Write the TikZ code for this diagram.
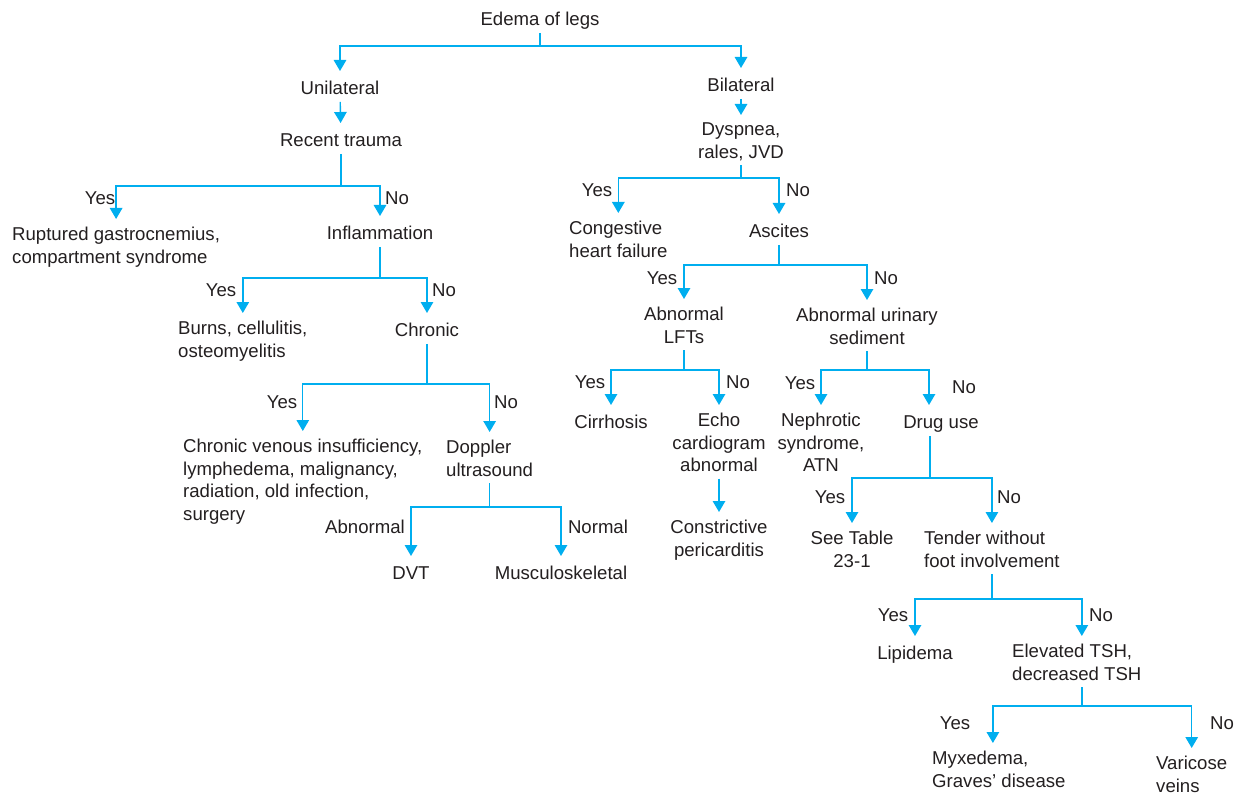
\documentclass[tikz,border=0pt]{standalone}
\usepackage{fontspec}
\setmainfont{Liberation Sans}
\usepackage{xcolor}
\usepackage{tikz}
\usetikzlibrary{arrows.meta,positioning}

\definecolor{flowcyan}{RGB}{0,174,239}
\definecolor{inkgray}{RGB}{35,31,32}

\begin{document}
\begin{tikzpicture}[x=1pt, y=-1pt,
    box/.style={inner sep=0pt, anchor=north, align=center, text=inkgray,
        font=\fontsize{18.6}{22.5}\selectfont,
        execute at begin node=\strut, execute at end node=\strut},
    boxl/.style={box, anchor=north west, align=left},
    lbl/.style={inner sep=0pt, text=inkgray, font=\fontsize{18.6}{22.5}\selectfont},
    link/.style={draw=flowcyan, line width=1.4pt},
    arr/.style={link, -{Triangle[width=12.5pt,length=11pt]}, shorten >=8pt}]
    \useasboundingbox (0,0) rectangle (1236,794);

    % top
    \node[box] (edema) at (540,10) {Edema of legs};
    \node[box] (uni) at (340,79) {Unilateral};
    \node[box] (bil) at (741,76) {Bilateral};
    \draw[link] (edema.south) -- (edema.south |- 0,46) coordinate (f0);
    \draw[arr] (f0) -| (uni.north);
    \draw[arr] (f0) -| (bil.north);

    % unilateral branch
    \node[box] (rec) at (341,131) {Recent trauma};
    \draw[arr] (uni) -- (rec);
    \node[boxl] (rupt) at (12,227) {Ruptured gastrocnemius,\\compartment syndrome};
    \node[box] (infl) at (380,224) {Inflammation};
    \draw[link] (rec.south) -- (rec.south |- 0,186) coordinate (f1);
    \draw[arr] (f1) -| (rupt.north);
    \draw[arr] (f1) -| (infl.north);
    \node[lbl] (y1) at (100,198) {Yes};
    \node[lbl] (n1) at (397,198) {No};

    \node[boxl] (burns) at (178,321) {Burns, cellulitis,\\osteomyelitis};
    \node[box] (chron) at (427,321) {Chronic};
    \draw[link] (infl.south) -- (infl.south |- 0,278) coordinate (f2);
    \draw[arr] (f2) -| (burns.north);
    \draw[arr] (f2) -| (chron.north);
    \node[lbl] (y2) at (221,290) {Yes};
    \node[lbl] (n2) at (444,290) {No};

    \node[boxl] (cvi) at (183,439) {Chronic venous insufficiency,\\lymphedema, malignancy,\\radiation, old infection,\\surgery};
    \node[boxl] (dopp) at (446,440) {Doppler\\ultrasound};
    \draw[link] (chron.south) -- (chron.south |- 0,384) coordinate (f3);
    \draw[arr] (f3) -| (cvi.north);
    \draw[arr] (f3) -| (dopp.north);
    \node[lbl] (y3) at (282,402) {Yes};
    \node[lbl] (n3) at (506,402) {No};

    \node[box] (dvt) at (411,564) {DVT};
    \node[box] (musc) at (561,564) {Musculoskeletal};
    \draw[link] (dopp.south) -- (dopp.south |- 0,507) coordinate (f4);
    \draw[arr] (f4) -| (dvt.north);
    \draw[arr] (f4) -| (musc.north);
    \node[lbl] (ab4) at (365,527) {Abnormal};
    \node[lbl] (nm4) at (598,527) {Normal};

    % bilateral branch
    \node[box] (dys) at (741,123) {Dyspnea,\\rales, JVD};
    \draw[arr] (bil) -- (dys);
    \node[boxl] (chf) at (569,221) {Congestive\\heart failure};
    \node[box] (asc) at (779,222) {Ascites};
    \draw[link] (dys.south) -- (dys.south |- 0,178) coordinate (f5);
    \draw[arr] (f5) -| (chf.north);
    \draw[arr] (f5) -| (asc.north);
    \node[lbl] (y5) at (597,190) {Yes};
    \node[lbl] (n5) at (798,190) {No};

    \node[box] (lft) at (684,307) {Abnormal\\LFTs};
    \node[box] (uri) at (867,308) {Abnormal urinary\\sediment};
    \draw[link] (asc.south) -- (asc.south |- 0,265) coordinate (f6);
    \draw[arr] (f6) -| (lft.north);
    \draw[arr] (f6) -| (uri.north);
    \node[lbl] (y6) at (662,278) {Yes};
    \node[lbl] (n6) at (886,278) {No};

    \node[box] (cirr) at (611,413) {Cirrhosis};
    \node[box] (echo) at (719,413) {Echo\\cardiogram\\abnormal};
    \draw[link] (lft.south) -- (lft.south |- 0,370) coordinate (f7);
    \draw[arr] (f7) -| (cirr.north);
    \draw[arr] (f7) -| (echo.north);
    \node[lbl] (y7) at (590,382) {Yes};
    \node[lbl] (n7) at (738,382) {No};
    \node[box] (peri) at (719,520) {Constrictive\\pericarditis};
    \draw[arr] (echo) -- (peri);

    \node[box] (neph) at (821,413) {Nephrotic\\syndrome,\\ATN};
    \node[box] (drug) at (941,413) {Drug use};
    \draw[link] (uri.south) -- (uri.south |- 0,370) coordinate (f8);
    \draw[arr] (f8) -| (neph.north);
    \draw[arr] (f8) -| ([xshift=-12pt]drug.north);
    \node[lbl] (y8) at (800,383) {Yes};
    \node[lbl] (n8) at (964,387) {No};

    \node[box] (table) at (852,531) {See Table\\23-1};
    \node[boxl] (tender) at (924,531) {Tender without\\foot involvement};
    \draw[link] ([xshift=-11pt]drug.south) -- ([xshift=-11pt]drug.south |- 0,478) coordinate (f9);
    \draw[arr] (f9) -| (table.north);
    \draw[arr] (f9) -| (tender.north);
    \node[lbl] (y9) at (830,497) {Yes};
    \node[lbl] (n9) at (1009,497) {No};

    \node[box] (lip) at (915,644) {Lipidema};
    \node[boxl] (tsh) at (1012,644) {Elevated TSH,\\decreased TSH};
    \draw[link] (tender.south) -- (tender.south |- 0,599) coordinate (f10);
    \draw[arr] (f10) -| (lip.north);
    \draw[arr] (f10) -| ([xshift=5pt]tsh.north);
    \node[lbl] (y10) at (893,615) {Yes};
    \node[lbl] (n10) at (1101,615) {No};

    \node[boxl] (myx) at (932,751) {Myxedema,\\Graves’ disease};
    \node[boxl] (var) at (1156,756) {Varicose\\veins};
    \draw[link] ([xshift=5pt]tsh.south) -- ([xshift=5pt]tsh.south |- 0,706) coordinate (f11);
    \draw[arr] (f11) -| ([xshift=-6pt]myx.north);
    \draw[arr] (f11) -| (var.north);
    \node[lbl] (y11) at (955,723) {Yes};
    \node[lbl] (n11) at (1222,723) {No};
\end{tikzpicture}
\end{document}
